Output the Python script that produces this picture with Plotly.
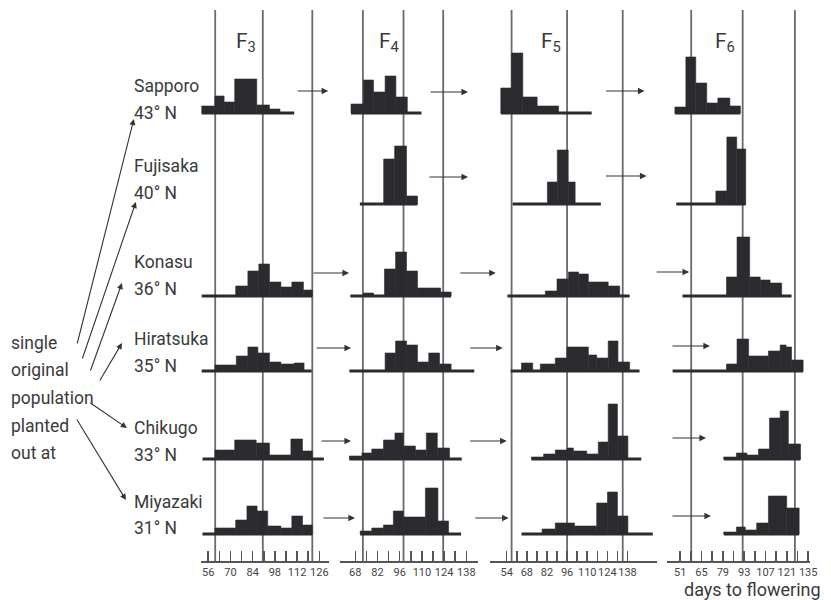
import plotly.graph_objects as go

W, H = 831, 600

# ---------------- data ----------------
sites = ["Sapporo", "Fujisaka", "Konasu", "Hiratsuka", "Chikugo", "Miyazaki"]
latitudes = ["43° N", "40° N", "36° N", "35° N", "33° N", "31° N"]
generations = ["3", "4", "5", "6"]

# axis tick labels (days to flowering) per generation
F3_labels = [56, 70, 84, 98, 112, 126]
F4_labels = [68, 82, 96, 110, 124, 138]
F5_labels = [54, 68, 82, 96, 110, 124, 138]
F6_labels = [51, 65, 79, 93, 107, 121, 135]

# reference lines (days) per generation
F3_ref = [60.4, 90.4, 121.6]
F4_ref = [72.8, 98.4, 123.4]
F5_ref = [57.4, 96.0, 134.7]
F6_ref = [58.2, 92.0, 126.3]

# histogram bin edges (days), relative frequencies, and baseline extent, per site
F3_edges = [
    [51.8, 60.2, 66.0, 72.7, 86.6, 94.6, 101.2],
    None,
    [73.3, 81.0, 87.9, 94.6, 101.8, 108.7, 116.0, 121.6],
    [60.2, 73.7, 81.0, 87.3, 94.6, 101.8, 110.2, 116.4],
    [60.2, 72.7, 86.2, 94.6, 108.1, 115.4, 121.6],
    [60.2, 73.3, 80.4, 86.8, 93.5, 101.8, 108.7, 115.4, 121.6],
]
F3_freq = [
    [7, 17, 11, 34, 8, 4],
    None,
    [10, 25, 32, 14, 9, 14, 6],
    [6, 15, 24, 18, 9, 7, 8],
    [9, 19, 16, 4, 20, 8],
    [6, 14, 28, 23, 8, 6, 18, 9],
]
F3_span = [(51.8, 110.2), None, (51.8, 121.6), (51.8, 121.2), (52.4, 128.9), (52.4, 121.6)]

F4_edges = [
    [65.3, 73.2, 79.5, 86.8, 93.6, 100.8],
    [85.9, 92.8, 100.3, 107.2],
    [73.2, 79.5, 86.4, 93.4, 100.3, 107.2, 121.8, 128.4],
    [86.8, 93.4, 100.3, 107.2, 114.3, 121.1, 128.4],
    [64.3, 72.2, 78.4, 85.8, 93.0, 98.3, 105.9, 112.8, 119.7, 127.4],
    [71.1, 78.4, 85.8, 92.0, 98.3, 112.2, 120.1, 126.8],
]
F4_freq = [
    [9, 33, 21, 37, 16],
    [45, 58, 8],
    [3, 0, 27, 44, 25, 8, 4],
    [18, 30, 26, 9, 18, 7],
    [3, 6, 10, 19, 26, 13, 9, 26, 11],
    [3, 6, 9, 23, 17, 46, 13],
]
F4_span = [(65.3, 109.7), (70.9, 107.2), (64.9, 128.4), (64.3, 143.0), (64.3, 135.1), (71.1, 134.7)]

F5_edges = [
    [49.9, 57.4, 65.2, 75.2, 90.1],
    [82.3, 89.2, 96.8, 101.6],
    [80.9, 89.0, 97.0, 103.9, 110.8, 124.6, 132.6],
    [64.3, 72.1, 77.4, 87.8, 95.9, 110.8, 116.6, 124.6, 131.4, 139.5],
    [71.2, 79.7, 87.8, 95.9, 100.4, 109.7, 117.7, 124.6, 131.0, 138.3],
    [78.6, 87.8, 101.1, 116.6, 124.1, 131.0, 138.3],
]
F5_freq = [
    [25, 60, 16, 7],
    [22, 54, 22],
    [5, 17, 24, 22, 14, 10],
    [8, 0, 7, 13, 24, 16, 13, 30, 9],
    [2, 5, 9, 11, 8, 5, 17, 55, 23],
    [5, 11, 8, 31, 42, 18],
]
F5_span = [(49.9, 113.1), (58.1, 119.5), (54.5, 139.5), (56.8, 146.4), (71.2, 147.6), (64.3, 155.6)]

F6_edges = [
    [47.5, 54.7, 61.2, 68.4, 75.7, 83.6, 90.5],
    [74.4, 81.6, 88.1, 94.0],
    [81.4, 88.3, 96.6, 103.5, 110.0, 117.6],
    [81.4, 88.3, 95.9, 108.9, 116.6, 120.5, 124.1, 131.7],
    [79.6, 87.9, 94.8, 102.4, 109.6, 116.6, 122.0, 130.0],
    [79.6, 87.9, 93.7, 101.2, 108.9, 120.9, 129.1],
]
F6_freq = [
    [6, 56, 30, 10, 15, 7],
    [13, 67, 55],
    [19, 59, 19, 16, 13],
    [7, 32, 15, 20, 26, 24, 11],
    [2, 6, 4, 10, 41, 48, 15],
    [2, 7, 4, 11, 38, 26],
]
F6_span = [(47.5, 90.5), (48.4, 94.0), (52.5, 124.1), (46.0, 131.7), (79.6, 130.0), (79.6, 129.1)]

# ---------------- layout constants ----------------
INK = "#2b2b2f"
TXT = "#3a3a3a"
FONT = "Roboto"

panel_px = [(203, 332), (343, 482), (494, 663), (673, 817)]   # axis extents (px)
panel_anchor = [(56, 210.0, 1.6), (68, 358.3, 1.6), (54, 511.0, 1.45), (51, 686.0, 1.536)]
row_base_px = [113, 204, 296, 371, 459, 534]
axis_y_px = 562
line_top_px = 10

labels = [F3_labels, F4_labels, F5_labels, F6_labels]
refs = [F3_ref, F4_ref, F5_ref, F6_ref]
edges_all = [F3_edges, F4_edges, F5_edges, F6_edges]
freq_all = [F3_freq, F4_freq, F5_freq, F6_freq]
span_all = [F3_span, F4_span, F5_span, F6_span]


def X(px):
    return px / W


def Y(py):
    return 1 - py / H


def day(g, px):
    d0, p0, s = panel_anchor[g]
    return d0 + (px - p0) / s


fig = go.Figure()
layout = dict(
    width=W, height=H, margin=dict(l=0, r=0, t=0, b=0),
    paper_bgcolor="white", plot_bgcolor="rgba(0,0,0,0)",
    showlegend=False, barmode="overlay",
    font=dict(family=FONT, color=TXT),
)

# x axes (one per generation)
for g in range(4):
    key = "xaxis" if g == 0 else f"xaxis{g + 1}"
    lab = labels[g]
    step = lab[1] - lab[0]
    tv = list(range(lab[0], lab[-1] + 1, step // 2))
    tt = [str(v) if (v - lab[0]) % step == 0 else "" for v in tv]
    p0, p1 = panel_px[g]
    layout[key] = dict(
        domain=[X(p0), X(p1)], range=[day(g, p0), day(g, p1)],
        anchor="free", position=Y(axis_y_px),
        showline=True, linecolor="#555", linewidth=2,
        ticks="inside", ticklen=10, tickwidth=1.5, tickcolor="#555",
        tickvals=tv, ticktext=tt, tickangle=0,
        tickfont=dict(size=11, color="#444", family=FONT),
        showgrid=False, zeroline=False, fixedrange=True,
    )

# y axes (one per site row), 1 unit = 1 px
for r in range(6):
    key = "yaxis" if r == 0 else f"yaxis{r + 1}"
    b = row_base_px[r]
    layout[key] = dict(
        domain=[Y(b + 5), Y(b - 75)], range=[-5, 75], visible=False,
        fixedrange=True, anchor="x",
    )

fig.update_layout(**layout)

# histograms
for g in range(4):
    xa = "x" if g == 0 else f"x{g + 1}"
    for r in range(6):
        ya = "y" if r == 0 else f"y{r + 1}"
        e = edges_all[g][r]
        if e is None:
            continue
        f = freq_all[g][r]
        s0, s1 = span_all[g][r]
        fig.add_trace(go.Scatter(
            x=[s0, s1], y=[0, 0], mode="lines", xaxis=xa, yaxis=ya,
            line=dict(color=INK, width=3), hoverinfo="skip", cliponaxis=False,
        ))
        centers = [(e[i] + e[i + 1]) / 2 for i in range(len(f))]
        widths = [e[i + 1] - e[i] for i in range(len(f))]
        fig.add_trace(go.Bar(
            x=centers, y=f, width=widths, base=0, xaxis=xa, yaxis=ya,
            marker=dict(color=INK, line=dict(width=0.6, color=INK)), cliponaxis=False,
        ))

# reference lines
shapes = []
for g in range(4):
    xa = "x" if g == 0 else f"x{g + 1}"
    for d in refs[g]:
        shapes.append(dict(
            type="line", xref=xa, yref="paper", x0=d, x1=d,
            y0=Y(axis_y_px), y1=Y(line_top_px),
            line=dict(color="#6a6a6a", width=1.8), layer="below",
        ))
fig.update_layout(shapes=shapes)

ann = []
# site labels
site_px = [(86, 113), (166, 193), (262, 289), (339, 366), (428, 455), (502, 528)]
for r in range(6):
    for txt, py in ((sites[r], site_px[r][0]), (latitudes[r], site_px[r][1])):
        ann.append(dict(x=X(133), y=Y(py), xref="paper", yref="paper", text=txt,
                        showarrow=False, xanchor="left", yanchor="middle",
                        font=dict(size=17.5, color=TXT, family=FONT)))

# left text
for txt, py in zip(["single", "original", "population", "planted", "out at"],
                   [343, 370, 398, 426, 453]):
    ann.append(dict(x=X(9), y=Y(py), xref="paper", yref="paper", text=txt,
                    showarrow=False, xanchor="left", yanchor="middle",
                    font=dict(size=17.5, color=TXT, family=FONT)))

# generation headers
gen_px = [236, 380, 544, 719]
for g in range(4):
    ann.append(dict(x=X(gen_px[g]), y=Y(43), xref="paper", yref="paper",
                    text=f"F<sub>{generations[g]}</sub>", showarrow=False,
                    xanchor="left", yanchor="middle",
                    font=dict(size=21, color=TXT, family=FONT)))

ann.append(dict(x=X(830), y=Y(589), xref="paper", yref="paper", text="days to flowering",
                showarrow=False, xanchor="right", yanchor="middle",
                font=dict(size=18, color=TXT, family=FONT)))

# arrows between generations (tail_x, head_x, y)
gen_arrows = [
    [(299, 331, 91), (433, 472, 92), (610, 650, 91)],
    [(432, 472, 177), (610, 652, 176)],
    [(315, 352, 273), (463, 500, 273), (661, 695, 272)],
    [(318, 354, 348), (473, 507, 348), (677, 716, 346)],
    [(323, 354, 441), (473, 511, 441), (677, 712, 438)],
    [(325, 358, 518), (478, 513, 518), (677, 717, 516)],
]
for row in gen_arrows:
    for tx, hx, py in row:
        ann.append(dict(x=X(hx), y=Y(py), xref="paper", yref="paper", text="",
                        showarrow=True, ax=tx - hx, ay=0, axref="pixel", ayref="pixel",
                        arrowhead=2, arrowsize=1.1, arrowwidth=1.2, arrowcolor="#333"))

# arrows from the original population to sites (tail -> head)
fan = [((78, 345), (135, 119)), ((83, 360), (137, 202)), ((91, 372), (123, 283)),
       ((100, 382), (123, 343)), ((90, 402), (128, 428)), ((77, 418), (127, 500))]
for (tx, ty), (hx, hy) in fan:
    ann.append(dict(x=X(hx), y=Y(hy), xref="paper", yref="paper", text="",
                    showarrow=True, ax=tx - hx, ay=ty - hy, axref="pixel", ayref="pixel",
                    arrowhead=2, arrowsize=1.1, arrowwidth=1.1, arrowcolor="#333"))

fig.update_layout(annotations=ann)
fig.write_html(
    "out.html",
    config={"displayModeBar": False, "staticPlot": True},
    post_script="document.body.style.margin='0';document.body.style.padding='0';",
)
